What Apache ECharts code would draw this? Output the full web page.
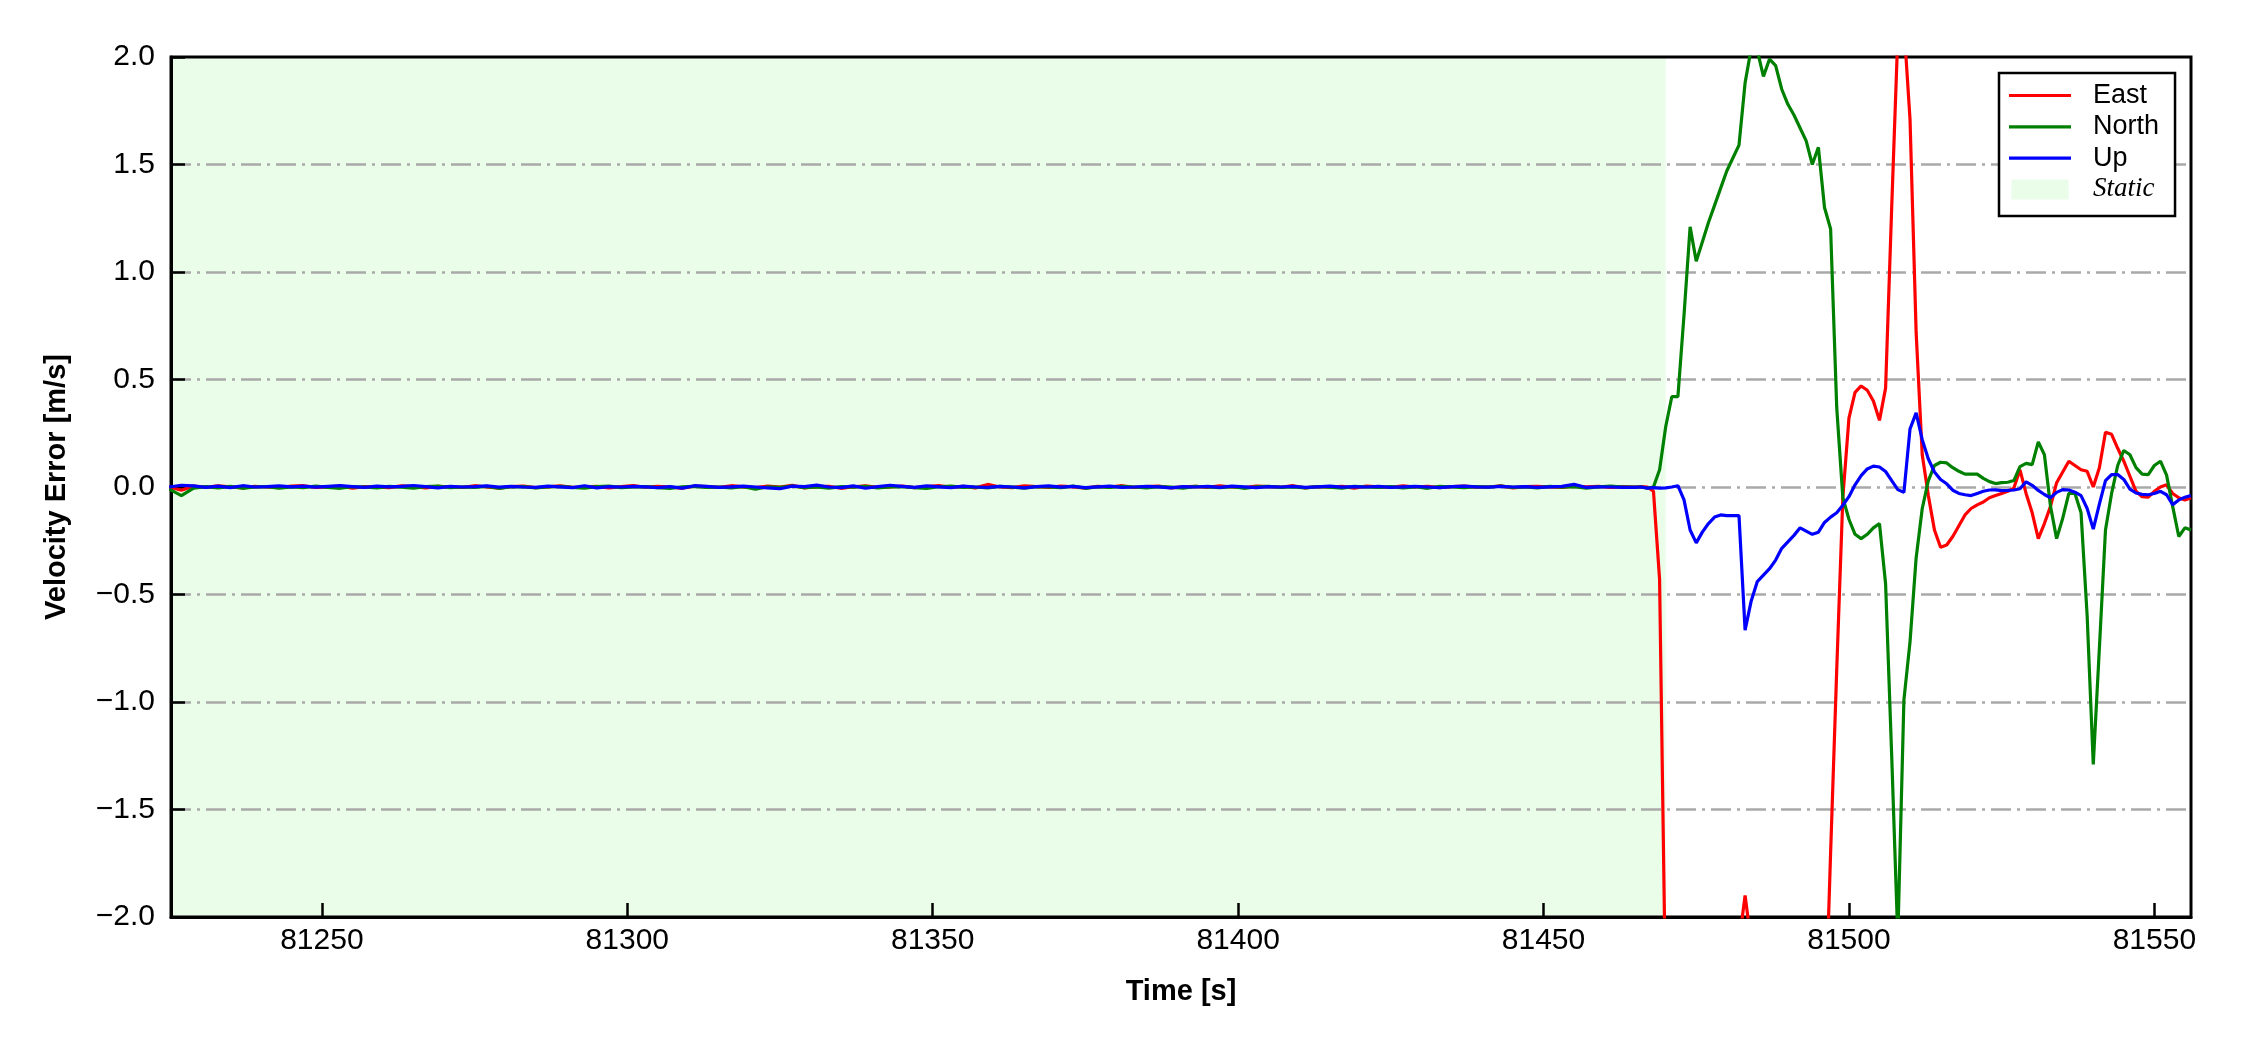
<!DOCTYPE html>
<html>
<head>
<meta charset="utf-8">
<script src="https://cdn.jsdelivr.net/npm/echarts@6/dist/echarts.min.js"></script>
<style>html,body{margin:0;padding:0;background:#fff}#c{width:2250px;height:1050px}</style>
</head>
<body>
<div id="c"></div>
<script>
// ---------- data ----------
const seriesNames = ['East', 'North', 'Up'];
const staticLabel = 'Static';
const xTicks = [81250, 81300, 81350, 81400, 81450, 81500, 81550];
const xRange = [81225.3, 81556];
const yRange = [-2, 2];
const yStep = 0.5;
const staticSpan = [81225.3, 81470];

// static phase, 2 s sampling
const tStatic = [
  81225,81227,81229,81231,81233,81235,81237,81239,81241,81243,
  81245,81247,81249,81251,81253,81255,81257,81259,81261,81263,
  81265,81267,81269,81271,81273,81275,81277,81279,81281,81283,
  81285,81287,81289,81291,81293,81295,81297,81299,81301,81303,
  81305,81307,81309,81311,81313,81315,81317,81319,81321,81323,
  81325,81327,81329,81331,81333,81335,81337,81339,81341,81343,
  81345,81347,81349,81351,81353,81355,81357,81359,81361,81363,
  81365,81367,81369,81371,81373,81375,81377,81379,81381,81383,
  81385,81387,81389,81391,81393,81395,81397,81399,81401,81403,
  81405,81407,81409,81411,81413,81415,81417,81419,81421,81423,
  81425,81427,81429,81431,81433,81435,81437,81439,81441,81443,
  81445,81447,81449,81451,81453,81455,81457,81459,81461,81463,
  81465
];
const eastStatic = [
  0.000,-0.015,0.004,-0.002,0.005,0.001,-0.004,0.003,0.000,-0.003,
  0.004,0.006,-0.002,0.001,0.004,-0.005,0.002,0.000,-0.003,0.005,
  0.002,-0.004,0.003,0.001,-0.002,0.006,0.000,-0.005,0.002,0.004,
  -0.003,0.001,0.005,-0.002,0.000,0.003,-0.004,0.002,0.006,-0.001,
  0.003,0.000,-0.006,0.004,0.002,-0.002,0.006,0.001,-0.003,0.004,
  0.000,0.008,-0.004,0.002,0.003,-0.006,0.001,0.005,-0.002,0.000,
  0.004,-0.003,0.002,0.006,-0.001,0.003,-0.004,0.012,0.000,-0.003,
  0.005,0.002,-0.002,0.004,0.001,-0.005,0.003,0.000,0.006,-0.002,
  0.002,0.004,-0.004,0.001,0.003,-0.002,0.005,0.000,-0.003,0.004,
  0.002,-0.001,0.006,-0.004,0.002,0.000,0.003,-0.005,0.004,0.001,
  -0.002,0.005,0.000,0.003,-0.003,0.002,0.004,-0.001,0.000,0.005,
  -0.004,0.002,0.003,0.000,-0.002,0.004,0.001,0.003,-0.002,0.002,
  0.000
];
const northStatic = [
  -0.010,-0.040,-0.005,0.002,-0.004,0.003,-0.006,0.000,0.002,-0.005,
  0.001,-0.003,0.004,-0.002,-0.006,0.002,0.000,-0.004,0.003,-0.001,
  -0.005,0.002,0.004,-0.003,0.000,-0.002,0.003,-0.006,0.001,0.002,
  -0.004,0.000,0.003,-0.002,-0.005,0.002,0.004,-0.003,0.000,0.002,
  -0.003,-0.006,0.001,0.003,-0.002,0.000,-0.004,0.002,-0.010,0.001,
  -0.002,0.004,-0.003,0.000,-0.005,0.002,-0.001,0.003,-0.004,0.000,
  0.002,-0.003,-0.006,0.001,0.004,-0.002,0.000,-0.004,0.003,-0.001,
  -0.005,0.002,0.000,-0.003,0.004,-0.006,0.001,-0.002,0.003,0.000,
  -0.004,0.002,-0.001,-0.005,0.003,0.000,-0.003,0.002,-0.006,0.001,
  0.003,-0.002,0.000,-0.004,0.002,-0.001,-0.005,0.003,0.000,-0.002,
  0.002,-0.004,0.001,-0.006,0.003,0.000,-0.003,0.002,-0.001,0.004,
  -0.002,0.000,-0.004,0.003,-0.001,0.002,-0.005,0.001,0.004,0.000,
  0.000
];
const upStatic = [
  0.000,0.008,0.005,-0.002,0.004,-0.003,0.006,0.000,0.002,0.005,
  0.001,0.004,-0.001,0.003,0.006,0.002,-0.002,0.004,0.001,0.003,
  0.007,0.002,-0.004,0.003,0.000,0.002,0.005,-0.001,0.003,0.000,
  -0.002,0.004,0.001,-0.003,0.006,-0.004,0.002,0.000,0.003,0.001,
  -0.003,0.002,-0.005,0.006,0.003,-0.002,0.001,0.004,0.000,-0.004,
  -0.008,0.004,0.002,0.009,0.000,-0.003,0.005,-0.006,0.002,0.008,
  0.003,-0.002,0.005,0.001,-0.003,0.004,0.000,-0.002,0.003,0.000,
  -0.004,0.002,0.005,-0.001,0.003,-0.003,0.001,0.004,-0.002,0.000,
  0.003,0.001,-0.004,0.002,0.000,0.003,-0.002,0.004,0.001,-0.003,
  0.002,0.000,0.003,-0.002,0.001,0.004,-0.001,0.002,0.000,0.003,
  -0.002,0.001,0.003,0.000,-0.003,0.002,0.004,0.001,-0.001,0.003,
  0.000,0.002,-0.002,0.001,0.003,0.012,-0.002,0.001,0.000,-0.002,
  -0.002
];

// dynamic phase, 1 s sampling
const tDyn = [
  81466,81467,81468,81469,81470,81471,81472,81473,81474,81475,
  81476,81477,81478,81479,81480,81481,81482,81483,81484,81485,
  81486,81487,81488,81489,81490,81491,81492,81493,81494,81495,
  81496,81497,81498,81499,81500,81501,81502,81503,81504,81505,
  81506,81507,81508,81509,81510,81511,81512,81513,81514,81515,
  81516,81517,81518,81519,81520,81521,81522,81523,81524,81525,
  81526,81527,81528,81529,81530,81531,81532,81533,81534,81535,
  81536,81537,81538,81539,81540,81541,81542,81543,81544,81545,
  81546,81547,81548,81549,81550,81551,81552,81553,81554,81555,
  81556
];
const eastDyn = [
  0.002,0.000,-0.020,-0.430,-2.400,-2.700,-2.900,-3.000,-2.800,-2.600,
  -2.500,-2.600,-2.800,-2.700,-2.500,-2.300,-2.120,-1.900,-2.120,-2.400,
  -2.600,-2.800,-3.000,-3.100,-3.000,-2.900,-2.800,-2.900,-3.000,-2.900,
  -2.600,-1.700,-0.850,-0.050,0.320,0.440,0.470,0.450,0.400,0.310,
  0.460,1.300,2.100,2.150,1.710,0.720,0.150,-0.040,-0.200,-0.280,
  -0.270,-0.230,-0.180,-0.130,-0.100,-0.083,-0.070,-0.050,-0.040,-0.030,
  -0.020,-0.005,0.080,-0.030,-0.120,-0.240,-0.170,-0.090,0.020,0.070,
  0.120,0.100,0.080,0.073,0.000,0.090,0.255,0.245,0.180,0.120,
  0.050,-0.020,-0.045,-0.047,-0.020,0.000,0.010,-0.030,-0.050,-0.060,
  -0.050
];
const northDyn = [
  0.000,-0.005,0.000,0.080,0.280,0.420,0.420,0.800,1.210,1.050,
  1.140,1.230,1.310,1.390,1.470,1.530,1.590,1.880,2.040,2.030,
  1.910,1.990,1.960,1.850,1.780,1.730,1.670,1.610,1.500,1.580,
  1.300,1.200,0.370,-0.050,-0.150,-0.220,-0.240,-0.220,-0.190,-0.170,
  -0.450,-1.250,-2.100,-0.990,-0.720,-0.330,-0.100,0.030,0.100,0.115,
  0.112,0.090,0.073,0.060,0.060,0.060,0.040,0.025,0.016,0.020,
  0.022,0.030,0.095,0.110,0.104,0.210,0.150,-0.090,-0.240,-0.145,
  -0.030,-0.030,-0.120,-0.600,-1.290,-0.750,-0.200,-0.030,0.100,0.170,
  0.150,0.090,0.060,0.058,0.100,0.120,0.055,-0.090,-0.230,-0.190,
  -0.200
];
const upDyn = [
  0.000,-0.005,-0.003,-0.005,-0.004,0.000,0.006,-0.060,-0.200,-0.260,
  -0.210,-0.170,-0.140,-0.130,-0.133,-0.133,-0.133,-0.666,-0.530,-0.440,
  -0.410,-0.380,-0.340,-0.285,-0.255,-0.225,-0.190,-0.205,-0.220,-0.210,
  -0.165,-0.140,-0.120,-0.085,-0.045,0.010,0.053,0.084,0.097,0.093,
  0.072,0.030,-0.012,-0.025,0.270,0.345,0.220,0.130,0.070,0.035,
  0.015,-0.015,-0.030,-0.036,-0.040,-0.030,-0.020,-0.014,-0.013,-0.017,
  -0.016,-0.014,-0.008,0.024,0.008,-0.016,-0.035,-0.050,-0.025,-0.012,
  -0.014,-0.024,-0.040,-0.100,-0.196,-0.080,0.030,0.058,0.058,0.035,
  -0.010,-0.028,-0.034,-0.036,-0.030,-0.020,-0.036,-0.082,-0.060,-0.048,
  -0.040
];

// ---------- chart ----------
const time = tStatic.concat(tDyn);
const values = [
  eastStatic.concat(eastDyn),
  northStatic.concat(northDyn),
  upStatic.concat(upDyn)
];
const colors = ['#ff0000', '#008000', '#0000ff'];
const staticColor = '#e9fde9';
const lineIcon = 'path://M0,0M0,8.4L62,8.4L62,11.6L0,11.6ZM62,20';
const patchIcon = 'path://M0,0M2.5,0L59.5,0L59.5,20L2.5,20ZM62,20';

const pairs = vals => time.map((t, i) => [t, vals[i]]);
const fmtY = v => v.toFixed(1).replace('-', '\u2212');
const fmtX = v => String(Math.round(v));

const chart = echarts.init(document.getElementById('c'), null, {renderer: 'canvas'});

const lineSeries = seriesNames.map((name, k) => ({
  name: name,
  type: 'line',
  data: pairs(values[k]),
  showSymbol: false,
  symbol: 'none',
  clip: true,
  z: 3 + k,
  lineStyle: {color: colors[k], width: 3.2},
  itemStyle: {color: colors[k]},
  emphasis: {disabled: true},
  animation: false
}));

const option = {
  backgroundColor: '#ffffff',
  animation: false,
  textStyle: {fontFamily: 'Liberation Sans'},
  grid: {
    left: 171, right: 59, top: 57, bottom: 133,
    show: true, borderColor: '#000', borderWidth: 3, backgroundColor: 'transparent'
  },
  legend: {
    orient: 'vertical',
    left: 1999, top: 73,
    data: [
      {name: seriesNames[0], icon: lineIcon},
      {name: seriesNames[1], icon: lineIcon},
      {name: seriesNames[2], icon: lineIcon},
      {name: staticLabel, icon: patchIcon}
    ],
    itemWidth: 62, itemHeight: 20, itemGap: 4.3,
    itemStyle: {borderWidth: 0},
    borderColor: '#000', borderWidth: 2.5, borderRadius: 0,
    backgroundColor: '#ffffff',
    padding: [9, 16, 13, 10],
    selectedMode: false,
    formatter: n => (n === staticLabel ? '{s|' + n + '}' : n),
    textStyle: {
      fontFamily: 'Liberation Sans', fontSize: 27, color: '#000',
      padding: [0, 0, 0, 17],
      rich: {s: {fontFamily: 'Liberation Serif', fontStyle: 'italic', fontSize: 27, color: '#000'}}
    }
  },
  xAxis: {
    type: 'value',
    min: xRange[0], max: xRange[1],
    name: 'Time [s]',
    nameLocation: 'middle', nameGap: 60,
    nameTextStyle: {fontFamily: 'Liberation Sans', fontWeight: 'bold', fontSize: 29, color: '#000'},
    axisLine: {show: true, onZero: false, lineStyle: {color: '#000', width: 3}},
    axisTick: {show: true, inside: true, length: 14, customValues: xTicks, lineStyle: {color: '#000', width: 2.5}},
    axisLabel: {show: true, customValues: xTicks, formatter: fmtX, margin: 9, fontSize: 30, color: '#000', fontFamily: 'Liberation Sans'},
    splitLine: {show: false}
  },
  yAxis: {
    type: 'value',
    min: yRange[0], max: yRange[1], interval: yStep,
    name: 'Velocity Error [m/s]',
    nameLocation: 'middle', nameGap: 100, nameRotate: 90,
    nameTextStyle: {fontFamily: 'Liberation Sans', fontWeight: 'bold', fontSize: 29, color: '#000'},
    axisLine: {show: true, onZero: false, lineStyle: {color: '#000', width: 3}},
    axisTick: {show: true, inside: true, length: 14, lineStyle: {color: '#000', width: 2.5}},
    axisLabel: {margin: 16, fontSize: 30, color: '#000', fontFamily: 'Liberation Sans', formatter: fmtY},
    splitLine: {show: true, showMinLine: false, showMaxLine: false,
      lineStyle: {color: '#a9a9a9', width: 2.5, type: [20, 6, 3, 6]}}
  },
  series: [{
    name: staticLabel,
    type: 'bar',
    data: [],
    z: -1,
    itemStyle: {color: staticColor},
    markArea: {
      silent: true,
      z: -1,
      itemStyle: {color: staticColor, opacity: 1},
      data: [[{xAxis: staticSpan[0]}, {xAxis: staticSpan[1]}]]
    }
  }].concat(lineSeries)
};
chart.setOption(option);
</script>
</body>
</html>
